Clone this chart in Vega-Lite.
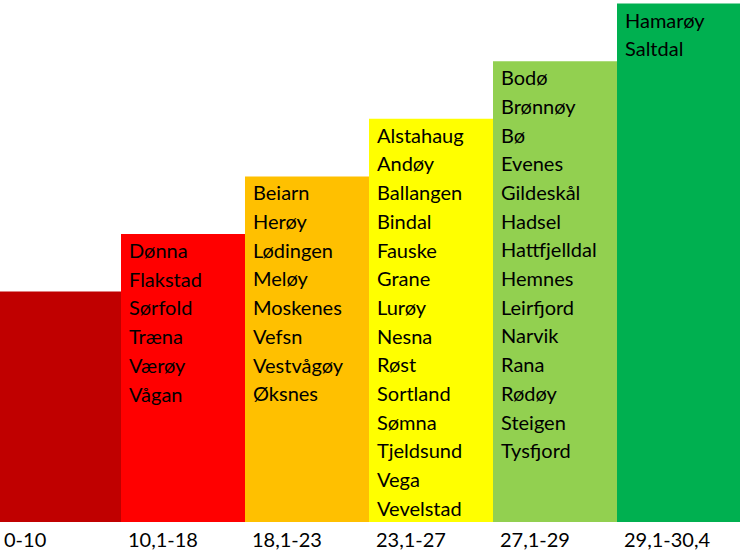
{
  "$schema": "https://vega.github.io/schema/vega-lite/v6.json",
  "width": 740,
  "height": 522,
  "padding": 0,
  "background": "white",
  "config": {
    "view": {"stroke": null},
    "font": "Lato"
  },
  "data": {
    "values": [
      {"cat": "0-10", "level": 4, "names": ""},
      {"cat": "10,1-18", "level": 5, "names": "Dønna\nFlakstad\nSørfold\nTræna\nVærøy\nVågan"},
      {"cat": "18,1-23", "level": 6, "names": "Beiarn\nHerøy\nLødingen\nMeløy\nMoskenes\nVefsn\nVestvågøy\nØksnes"},
      {"cat": "23,1-27", "level": 7, "names": "Alstahaug\nAndøy\nBallangen\nBindal\nFauske\nGrane\nLurøy\nNesna\nRøst\nSortland\nSømna\nTjeldsund\nVega\nVevelstad"},
      {"cat": "27,1-29", "level": 8, "names": "Bodø\nBrønnøy\nBø\nEvenes\nGildeskål\nHadsel\nHattfjelldal\nHemnes\nLeirfjord\nNarvik\nRana\nRødøy\nSteigen\nTysfjord"},
      {"cat": "29,1-30,4", "level": 9, "names": "Hamarøy\nSaltdal"}
    ]
  },
  "encoding": {
    "x": {
      "field": "cat",
      "type": "nominal",
      "sort": null,
      "scale": {"range": [-3, 741], "paddingInner": 0, "paddingOuter": 0},
      "axis": {
        "title": null,
        "domain": false,
        "ticks": false,
        "grid": false,
        "labelAngle": 0,
        "labelAlign": "left",
        "labelOffset": -55,
        "labelBaseline": "alphabetic",
        "labelPadding": 24,
        "labelFontSize": 20,
        "labelFont": "Lato",
        "labelColor": "black",
        "labelOverlap": false,
        "labelBound": false
      }
    },
    "y": {
      "field": "level",
      "type": "quantitative",
      "scale": {"domain": [0, 9.0625], "nice": false, "zero": true},
      "axis": null
    }
  },
  "layer": [
    {
      "mark": {"type": "bar", "clip": true},
      "encoding": {
        "color": {
          "field": "cat",
          "type": "nominal",
          "sort": null,
          "scale": {
            "domain": ["0-10", "10,1-18", "18,1-23", "23,1-27", "27,1-29", "29,1-30,4"],
            "range": ["#C00000", "#FF0000", "#FFC000", "#FFFF00", "#92D050", "#00B050"]
          },
          "legend": null
        }
      }
    },
    {
      "mark": {
        "type": "text",
        "align": "left",
        "baseline": "alphabetic",
        "dx": 8,
        "dy": 24,
        "fontSize": 20,
        "font": "Lato",
        "lineHeight": 28.7,
        "lineBreak": "\n",
        "color": "black"
      },
      "encoding": {
        "x": {"field": "cat", "type": "nominal", "sort": null, "bandPosition": 0},
        "text": {"field": "names", "type": "nominal"}
      }
    }
  ]
}
